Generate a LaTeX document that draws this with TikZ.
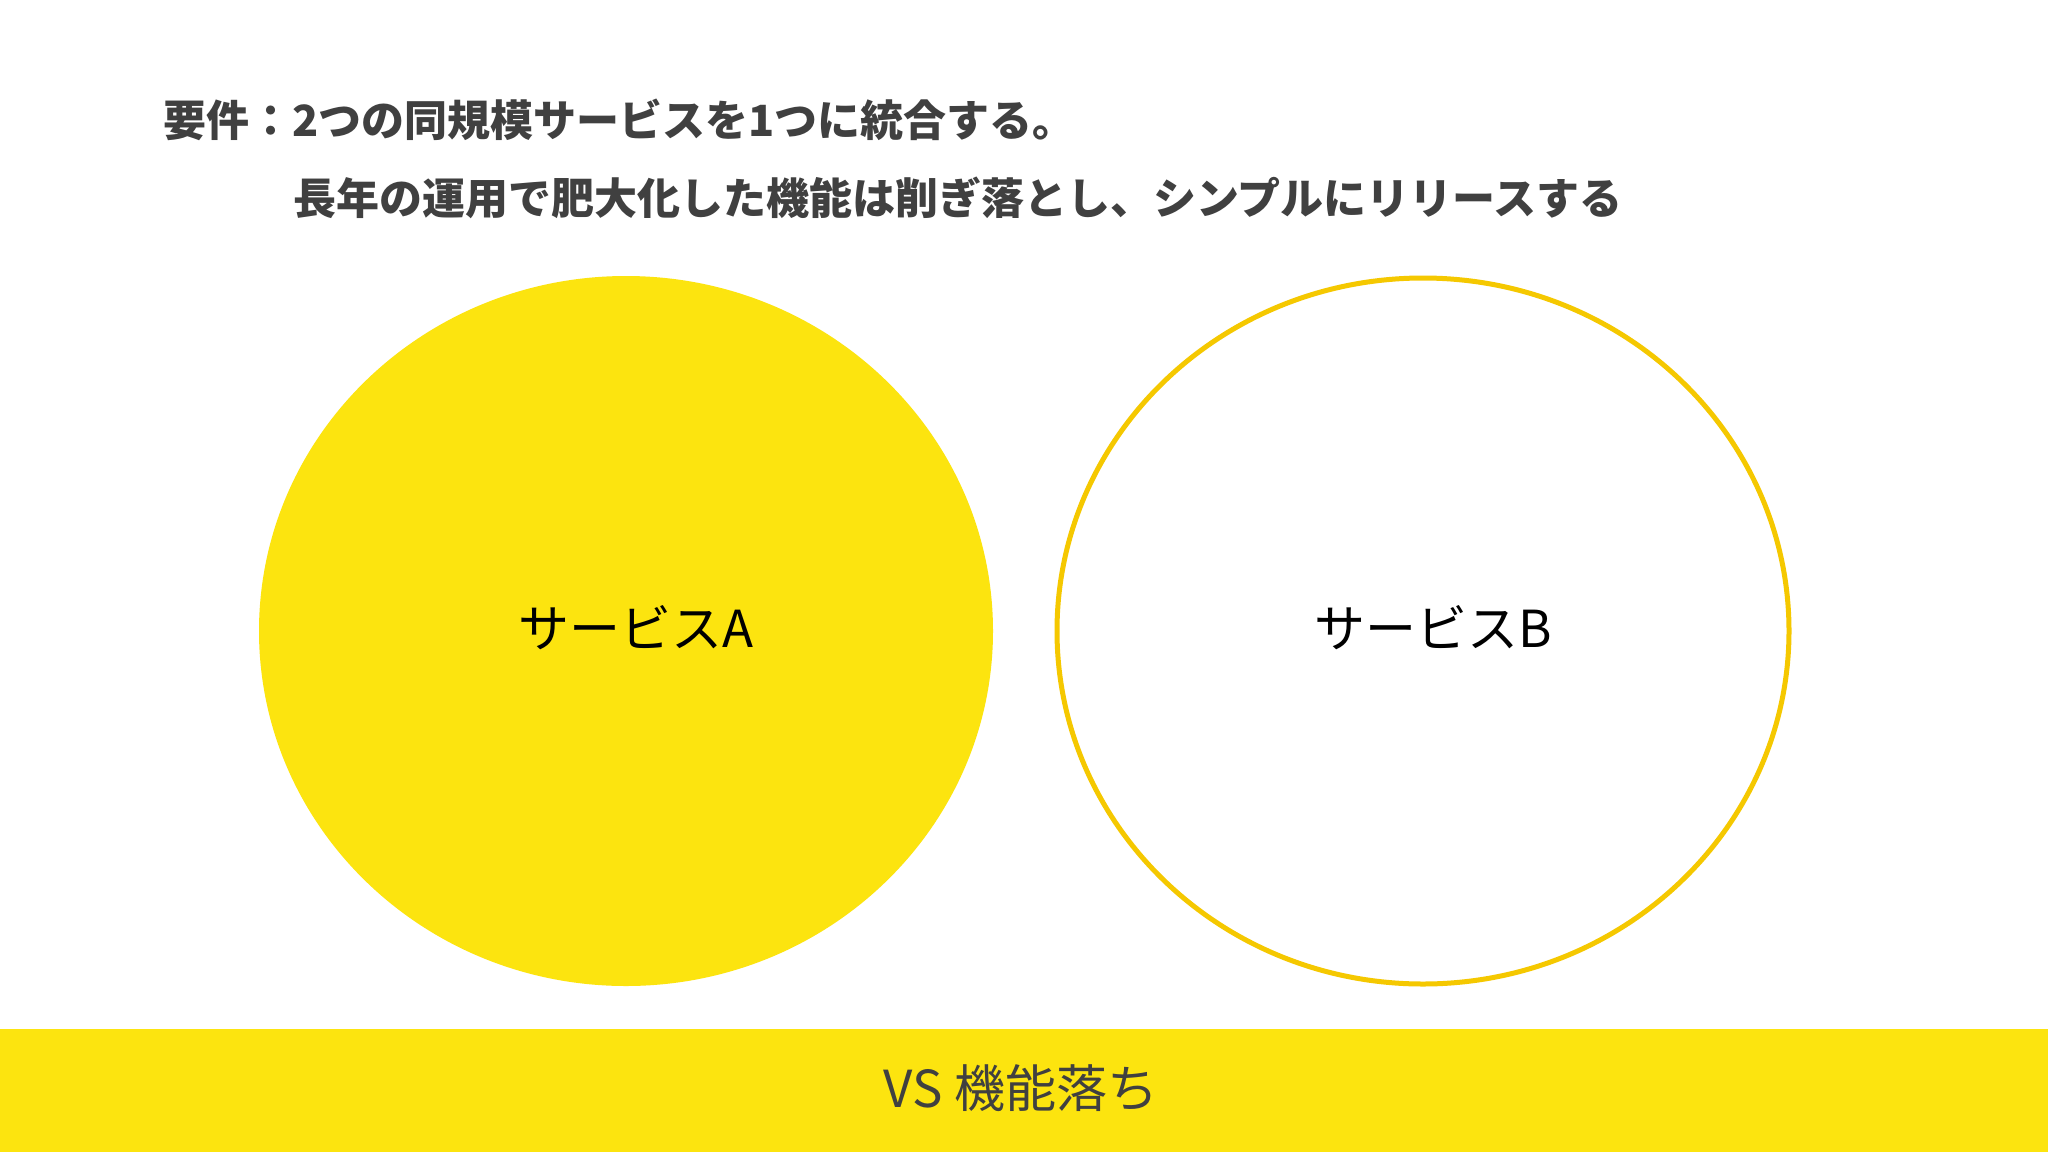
\documentclass[tikz,border=0pt]{standalone}
\usepackage{fontspec}
\usepackage{xcolor}
\usepackage{tikz}
\newfontfamily\jp{Noto Sans CJK JP}
\definecolor{lemon}{HTML}{FCE40F}
\definecolor{amber}{HTML}{F5C800}
\definecolor{ink}{HTML}{404040}
\tikzset{
  heading/.style={anchor=west,inner sep=0pt,text=ink,font=\jp\bfseries\fontsize{43}{48}\selectfont},
  svclabel/.style={inner sep=0pt,text=black,font=\jp\fontsize{51}{56}\selectfont}
}

\begin{document}
\begin{tikzpicture}[x=1pt,y=-1pt]
\useasboundingbox[fill=white] (0,0) rectangle (2048,1152);
% requirement text
\node (title1) at (163,120)[heading]{要件：2つの同規模サービスを1つに統合する。};
\node (title2) at (293,198)[heading]{長年の運用で肥大化した機能は削ぎ落とし、シンプルにリリースする};
% the two services
\fill[lemon] (626,631) ellipse [x radius=367,y radius=355];
\draw[amber,line width=5pt] (1423,631) ellipse [x radius=366,y radius=353];
\node (servA) at (636,628)[svclabel]{サービスA};
\node (servB) at (1433,628)[svclabel]{サービスB};
% bottom band
\fill[lemon] (0,1029) rectangle (2048,1152);
\node (vslabel) at (1021,1088)[inner sep=0pt,text=ink,font=\jp\fontsize{51}{56}\selectfont]{VS 機能落ち};
\end{tikzpicture}
\end{document}
